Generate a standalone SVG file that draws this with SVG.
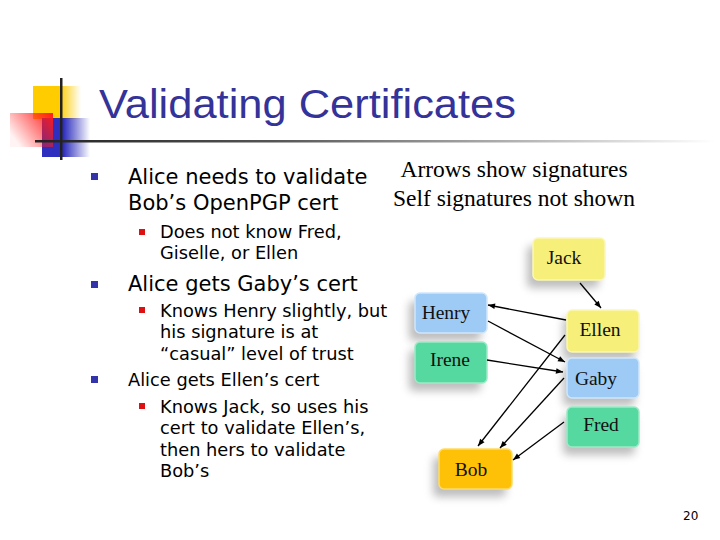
<svg xmlns="http://www.w3.org/2000/svg" width="720" height="540" viewBox="0 0 720 540">
<defs>
<style>
.title{font-family:"Liberation Sans",Arial,sans-serif;font-size:40px;fill:#333399}
.b1{font-family:"DejaVu Sans",Verdana,sans-serif;font-size:21px;fill:#000}
.b2{font-family:"DejaVu Sans",Verdana,sans-serif;font-size:17.8px;fill:#000}
.note{font-family:"Liberation Serif","Times New Roman",serif;font-size:23.5px;fill:#000;text-anchor:middle}
.nl{font-family:"Liberation Serif","Times New Roman",serif;font-size:19.5px;fill:#111;text-anchor:middle}
.box{stroke-width:1.5}
.yel{fill:#f6ef7a;stroke:#fbf7b8}
.blu{fill:#9dcbf6;stroke:#cfe6fb}
.grn{fill:#55d9a0;stroke:#9aeac6}
.org{fill:#ffc107;stroke:#ffdc6a}
.sh{fill:#888;opacity:0.55;filter:url(#blur)}
.con line{stroke:#000;stroke-width:1.3;marker-end:url(#ah)}
.pg{font-family:"DejaVu Sans",Verdana,sans-serif;font-size:12px;fill:#000}
</style>
<filter id="blur" x="-30%" y="-30%" width="160%" height="160%"><feGaussianBlur stdDeviation="4"/></filter>
<marker id="ah" viewBox="0 0 10 10" refX="10" refY="5" markerWidth="9" markerHeight="7" markerUnits="userSpaceOnUse" orient="auto"><path d="M0,1 L10,5 L0,9 z" fill="#000"/></marker>
<linearGradient id="gy" x1="0" x2="1" y1="0" y2="0"><stop offset="0" stop-color="#ffcc00"/><stop offset="0.55" stop-color="#ffcc00"/><stop offset="1" stop-color="#ffcc00" stop-opacity="0"/></linearGradient>
<linearGradient id="gb" x1="0" x2="1" y1="0" y2="0"><stop offset="0" stop-color="#2f2fbf"/><stop offset="0.45" stop-color="#2f2fbf"/><stop offset="1" stop-color="#2f2fbf" stop-opacity="0"/></linearGradient>
<linearGradient id="gr" x1="1" x2="0" y1="0" y2="0.6"><stop offset="0" stop-color="#ff1a1a"/><stop offset="1" stop-color="#ff1a1a" stop-opacity="0.05"/></linearGradient>
<linearGradient id="gl" x1="0" x2="1" y1="0" y2="0"><stop offset="0" stop-color="#222"/><stop offset="0.35" stop-color="#555"/><stop offset="1" stop-color="#fff"/></linearGradient>
</defs>
<rect width="720" height="540" fill="#fff"/>
<g id="logo">
<rect x="33" y="86" width="48" height="33" fill="url(#gy)"/>
<rect x="42" y="118" width="48" height="39" fill="url(#gb)"/>
<rect x="10" y="113" width="43" height="34" fill="url(#gr)"/>
<rect x="35" y="140" width="680" height="2.5" fill="url(#gl)"/>
<rect x="60" y="78" width="2.5" height="82" fill="#222"/>
</g>
<text class="title" x="99" y="118" textLength="417" lengthAdjust="spacingAndGlyphs">Validating Certificates</text>
<g id="bullets">
<rect x="91" y="173" width="7" height="7" fill="#3333aa"/>
<text class="b1" x="128" y="184">Alice needs to validate</text>
<text class="b1" x="128" y="210">Bob’s OpenPGP cert</text>
<rect x="139" y="229" width="6" height="6" fill="#dd1111"/>
<text class="b2" x="160" y="238">Does not know Fred,</text>
<text class="b2" x="160" y="259">Giselle, or Ellen</text>
<rect x="91" y="281" width="7" height="7" fill="#3333aa"/>
<text class="b1" x="128" y="291">Alice gets Gaby’s cert</text>
<rect x="139" y="307" width="6" height="6" fill="#dd1111"/>
<text class="b2" x="160" y="317">Knows Henry slightly, but</text>
<text class="b2" x="160" y="338">his signature is at</text>
<text class="b2" x="160" y="360">“casual” level of trust</text>
<rect x="91" y="376" width="7" height="7" fill="#3333aa"/>
<text class="b2" x="128" y="386">Alice gets Ellen’s cert</text>
<rect x="139" y="403" width="6" height="6" fill="#dd1111"/>
<text class="b2" x="160" y="413">Knows Jack, so uses his</text>
<text class="b2" x="160" y="434">cert to validate Ellen’s,</text>
<text class="b2" x="160" y="456">then hers to validate</text>
<text class="b2" x="160" y="477">Bob’s</text>
</g>
<text class="note" x="514" y="177">Arrows show signatures</text>
<text class="note" x="514" y="206">Self signatures not shown</text>
<g id="node-jack"><rect class="sh" x="527" y="246" width="72" height="42" rx="5"/><rect class="box yel" x="533" y="238" width="72" height="42" rx="5"/><text class="nl" x="564" y="264">Jack</text></g>
<g id="node-ellen"><rect class="sh" x="563" y="318" width="72" height="42" rx="5"/><rect class="box yel" x="567" y="310" width="72" height="42" rx="5"/><text class="nl" x="600" y="336">Ellen</text></g>
<g id="node-gaby"><rect class="sh" x="563" y="366" width="72" height="40" rx="5"/><rect class="box blu" x="567" y="358" width="72" height="40" rx="5"/><text class="nl" x="596" y="385">Gaby</text></g>
<g id="node-fred"><rect class="sh" x="563" y="415" width="72" height="40" rx="5"/><rect class="box grn" x="567" y="407" width="72" height="40" rx="5"/><text class="nl" x="601" y="431">Fred</text></g>
<g id="node-henry"><rect class="sh" x="409" y="301" width="72" height="40" rx="5"/><rect class="box blu" x="415" y="293" width="72" height="40" rx="5"/><text class="nl" x="446" y="319">Henry</text></g>
<g id="node-irene"><rect class="sh" x="409" y="350" width="72" height="41" rx="5"/><rect class="box grn" x="415" y="342" width="72" height="41" rx="5"/><text class="nl" x="450" y="366">Irene</text></g>
<g id="node-bob"><rect class="sh" x="433" y="457" width="73" height="40" rx="5"/><rect class="box org" x="439" y="449" width="73" height="40" rx="5"/><text class="nl" x="471" y="476">Bob</text></g>
<g id="connectors" class="con">
<line x1="580" y1="283" x2="601" y2="308"/>
<line x1="566" y1="320" x2="488" y2="305"/>
<line x1="488" y1="321" x2="565" y2="362"/>
<line x1="487" y1="360" x2="563" y2="372"/>
<line x1="565" y1="335" x2="478" y2="446"/>
<line x1="564" y1="378" x2="500" y2="448"/>
<line x1="564" y1="422" x2="513" y2="460"/>
</g>
<text class="pg" x="683" y="520">20</text>
</svg>
